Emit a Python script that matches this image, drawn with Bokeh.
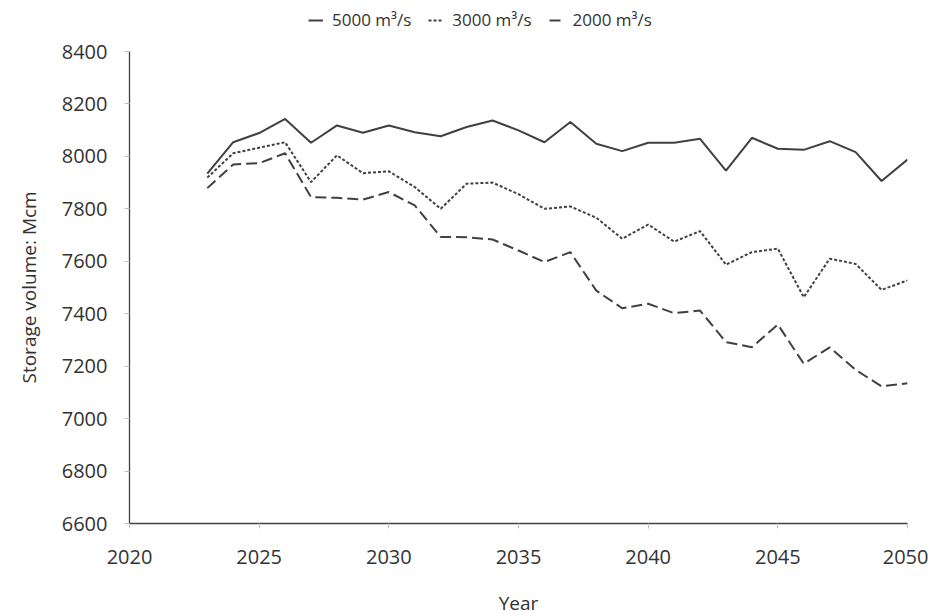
from bokeh.plotting import figure
from bokeh.models import Range1d, FixedTicker, Legend, LegendItem, Title
from bokeh.embed import file_html
from bokeh.resources import INLINE

years = [2023, 2024, 2025, 2026, 2027, 2028, 2029, 2030, 2031, 2032, 2033, 2034, 2035, 2036,
         2037, 2038, 2039, 2040, 2041, 2042, 2043, 2044, 2045, 2046, 2047, 2048, 2049, 2050]
flow_5000 = [7934, 8054, 8089, 8143, 8052, 8118, 8090, 8118, 8092, 8077, 8112, 8137, 8099, 8054,
             8131, 8048, 8020, 8052, 8052, 8067, 7946, 8071, 8029, 8025, 8058, 8016, 7906, 7988]
flow_3000 = [7919, 8012, 8033, 8054, 7902, 8004, 7936, 7943, 7883, 7800, 7896, 7900, 7856, 7800,
             7809, 7766, 7686, 7740, 7675, 7715, 7587, 7635, 7648, 7463, 7610, 7590, 7491, 7527]
flow_2000 = [7879, 7969, 7974, 8012, 7845, 7842, 7835, 7864, 7813, 7693, 7692, 7683, 7641, 7597,
             7635, 7488, 7421, 7438, 7402, 7412, 7292, 7272, 7359, 7209, 7272, 7186, 7123, 7135]
series_names = ["5000 m³/s", "3000 m³/s", "2000 m³/s"]
x_ticks = [2020, 2025, 2030, 2035, 2040, 2045, 2050]
y_ticks = [6600, 6800, 7000, 7200, 7400, 7600, 7800, 8000, 8200, 8400]

FONT = "Open Sans"
TXT = "#333333"
LINE = "#404040"

# frame extends above 8400 (to the canvas top) so the legend can sit inside it
Y_MIN, Y_MAX = 6600, 8400
Y_TOP = Y_MAX + 51 * (Y_MAX - Y_MIN) / 472.0

p = figure(width=928, height=616, frame_width=778, frame_height=523,
           x_range=Range1d(2020, 2050), y_range=Range1d(Y_MIN, Y_TOP),
           output_backend="svg", toolbar_location=None,
           min_border_left=129, min_border_right=21, min_border_top=0, min_border_bottom=93)
p.outline_line_color = None
p.xgrid.visible = False
p.ygrid.visible = False

r1 = p.line(years, flow_5000, line_color=LINE, line_width=2)
r2 = p.line(years, flow_3000, line_color=LINE, line_width=2, line_dash="3 2")
r3 = p.line(years, flow_2000, line_color=LINE, line_width=2, line_dash="11 5")

for ax in (p.xaxis[0], p.yaxis[0]):
    ax.axis_line_color = LINE
    ax.axis_line_width = 1.3
    ax.major_tick_line_color = "#c0c0c0"
    ax.major_tick_out = 5
    ax.major_tick_in = 0
    ax.minor_tick_line_color = None
    ax.major_label_text_font = FONT
    ax.major_label_text_font_size = "20px"
    ax.major_label_text_color = TXT
    ax.axis_label_text_font = FONT
    ax.axis_label_text_font_size = "19px"
    ax.axis_label_text_font_style = "normal"
    ax.axis_label_text_color = TXT

p.xaxis[0].ticker = FixedTicker(ticks=x_ticks)
p.yaxis[0].ticker = FixedTicker(ticks=y_ticks)
p.yaxis[0].bounds = (Y_MIN, Y_MAX)
p.xaxis[0].major_label_standoff = 21
p.yaxis[0].major_label_standoff = 17
p.xaxis[0].axis_label = "Year"
p.xaxis[0].axis_label_standoff = 23

ytitle = Title(text="Storage volume: Mcm", align="left", offset=140,
               vertical_align="top", standoff=30,
               text_font=FONT, text_font_size="19px", text_font_style="normal",
               text_color=TXT)
p.add_layout(ytitle, "left")

legend = Legend(items=[LegendItem(label=series_names[0], renderers=[r1]),
                       LegendItem(label=series_names[1], renderers=[r2]),
                       LegendItem(label=series_names[2], renderers=[r3])],
                orientation="horizontal", location=(179, 492),
                glyph_width=15, glyph_height=20, label_standoff=9, spacing=17,
                padding=0, margin=0, border_line_color=None, background_fill_alpha=0,
                label_text_font=FONT, label_text_font_size="17px", label_text_color=TXT)
p.add_layout(legend, "center")

open("out.html", "w").write(file_html(p, INLINE))
